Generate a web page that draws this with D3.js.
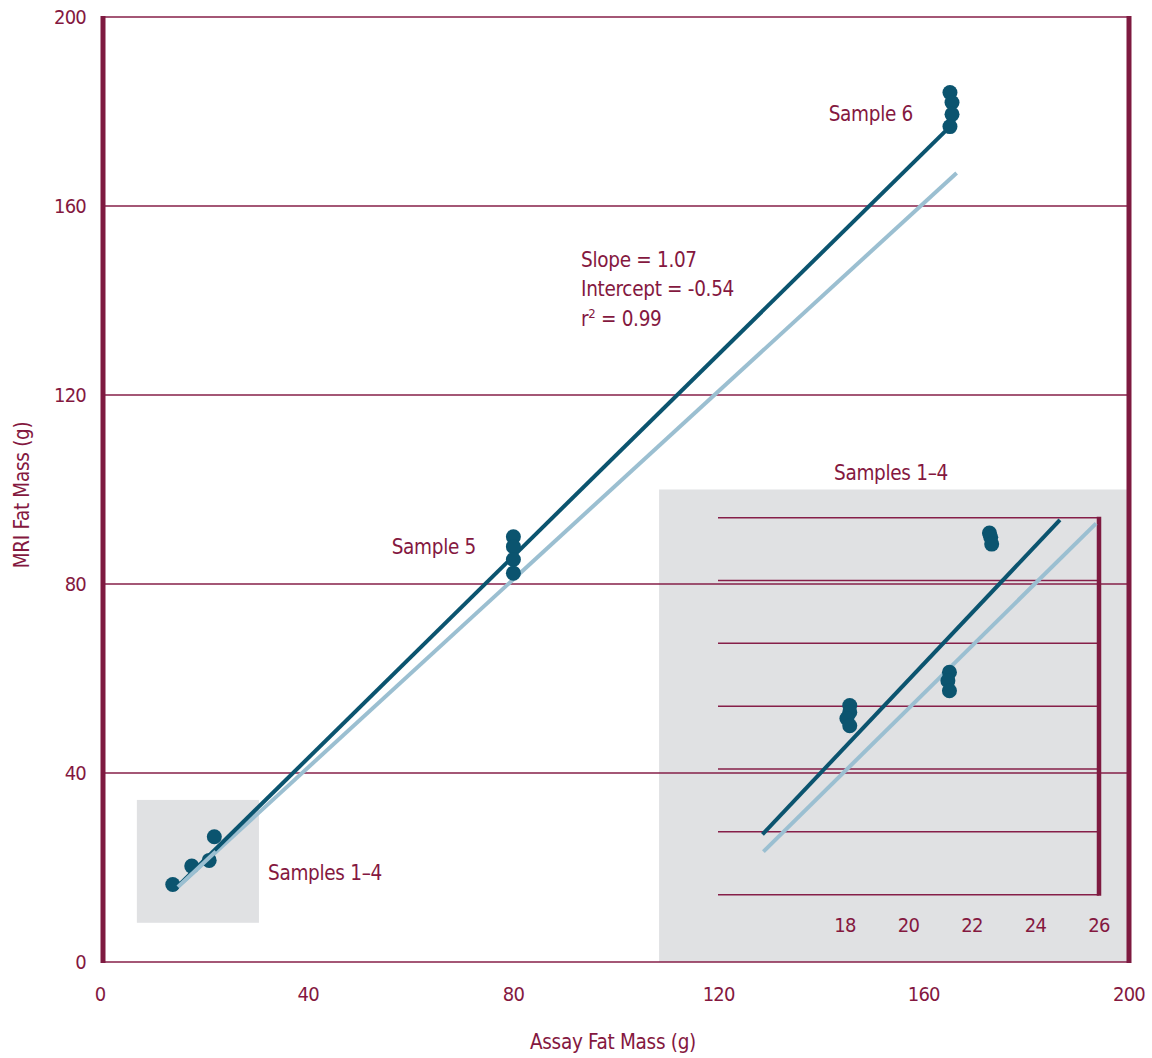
<!DOCTYPE html>
<html lang="en">
<head>
  <meta charset="utf-8">
  <script src="https://cdnjs.cloudflare.com/ajax/libs/d3/7.8.5/d3.min.js"></script>
  <style>
    body { margin: 0; background: #fff; }
    svg text {
      font-family: "Liberation Sans Narrow", "DejaVu Sans Condensed", sans-serif;
      fill: #84183f;
    }
    .grid line { stroke: #861f49; stroke-width: 1.5; }
    .tick-label { font-size: 20px; letter-spacing: -0.8px; }
    .note { font-size: 20.5px; letter-spacing: -0.3px; }
  </style>
</head>
<body>
  <svg id="chart" width="1152" height="1058"></svg>
  <script>
    // main chart values
    var xTicks = [0, 40, 80, 120, 160, 200];
    var yTicks = [0, 40, 80, 120, 160, 200];

    var samples14 = [[13.6, 16.4], [17.3, 20.3], [20.7, 21.5], [21.7, 26.5]];
    var sample5 = [[80.0, 90.0], [80.0, 87.9], [80.0, 85.2], [80.0, 82.3]];
    var sample6 = [[165.1, 184.0], [165.5, 181.9], [165.5, 179.4], [165.1, 176.8]];

    var fitLine = [[14, 15.4], [165.1, 176.8]];
    var refLine = [[14.6, 15.9], [166.4, 167]];

    // inset (samples 1-4 zoomed)
    var insetXTicks = [18, 20, 22, 24, 26];
    var insetYTicks = [14, 16, 18, 20, 22, 24, 26];
    var insetPoints = [
      [18.15, 20.02], [18.15, 19.81], [18.06, 19.61], [18.15, 19.38],
      [21.29, 21.08], [21.24, 20.81], [21.29, 20.49],
      [22.55, 25.51], [22.59, 25.38], [22.62, 25.16]
    ];
    var insetFit = [[15.4, 15.92], [24.77, 25.93]];
    var insetRef = [[15.43, 15.37], [25.91, 25.82]];

    var statLines = ["Slope = 1.07", "Intercept = -0.54"];

    var maroon = "#7e1a40",
        dark = "#0b546f",
        light = "#9bbfd1",
        grey = "#e0e1e3";

    var svg = d3.select("#chart");

    var x = d3.scaleLinear().domain([0, 200]).range([103, 1129]);
    var y = d3.scaleLinear().domain([0, 200]).range([962, 17]);

    var line = d3.line()
        .x(function(d) { return x(d[0]); })
        .y(function(d) { return y(d[1]); });

    // small grey box around samples 1-4
    svg.append("rect")
      .attr("x", x(6.6)).attr("y", y(34.3))
      .attr("width", x(30.4) - x(6.6))
      .attr("height", y(8.3) - y(34.3))
      .attr("fill", grey);

    // inset background
    svg.append("rect")
      .attr("x", x(108.4)).attr("y", y(100))
      .attr("width", x(200) - x(108.4))
      .attr("height", y(0) - y(100))
      .attr("fill", grey);

    // horizontal grid
    svg.append("g").attr("class", "grid")
      .selectAll("line")
      .data(yTicks)
      .enter().append("line")
        .attr("x1", x(0)).attr("x2", x(200))
        .attr("y1", function(d) { return y(d); })
        .attr("y2", function(d) { return y(d); });

    // left + right thick axis lines
    svg.append("line")
      .attr("x1", x(0)).attr("x2", x(0))
      .attr("y1", y(200) - 1).attr("y2", y(0) + 1)
      .attr("stroke", maroon).attr("stroke-width", 5);
    svg.append("line")
      .attr("x1", x(200)).attr("x2", x(200))
      .attr("y1", y(200) - 1).attr("y2", y(0) + 1)
      .attr("stroke", maroon).attr("stroke-width", 5);

    // tick labels
    svg.append("g").selectAll("text")
      .data(yTicks)
      .enter().append("text")
        .attr("class", "tick-label")
        .attr("x", 86)
        .attr("y", function(d) { return y(d); })
        .attr("dy", "0.35em")
        .attr("text-anchor", "end")
        .text(function(d) { return d; });

    svg.append("g").selectAll("text")
      .data(xTicks)
      .enter().append("text")
        .attr("class", "tick-label")
        .attr("x", function(d) { return x(d) - (d === 0 ? 3 : 0); })
        .attr("y", 1001)
        .attr("text-anchor", "middle")
        .text(function(d) { return d; });

    // axis titles
    svg.append("text")
      .attr("class", "note")
      .attr("x", 613).attr("y", 1049)
      .attr("text-anchor", "middle")
      .text("Assay Fat Mass (g)");

    svg.append("text")
      .attr("class", "note")
      .attr("transform", "translate(29,495) rotate(-90)")
      .attr("text-anchor", "middle")
      .text("MRI Fat Mass (g)");

    // regression lines
    svg.append("path").datum(refLine)
      .attr("d", line).attr("fill", "none")
      .attr("stroke", light).attr("stroke-width", 4);
    svg.append("path").datum(fitLine)
      .attr("d", line).attr("fill", "none")
      .attr("stroke", dark).attr("stroke-width", 4);

    // dots
    svg.append("g").selectAll("circle")
      .data(samples14.concat(sample5, sample6))
      .enter().append("circle")
        .attr("cx", function(d) { return x(d[0]); })
        .attr("cy", function(d) { return y(d[1]); })
        .attr("r", 7.5)
        .attr("fill", dark);

    // redraw light line over samples 1-4 (it sits on top there)
    svg.append("path").datum([refLine[0], [22, 23.4]])
      .attr("d", line).attr("fill", "none")
      .attr("stroke", light).attr("stroke-width", 4);

    // labels
    svg.append("text").attr("class", "note")
      .attr("x", 913).attr("y", 121).attr("text-anchor", "end").text("Sample 6");
    svg.append("text").attr("class", "note")
      .attr("x", 476).attr("y", 554).attr("text-anchor", "end").text("Sample 5");
    svg.append("text").attr("class", "note")
      .attr("x", 268).attr("y", 880).text("Samples 1\u20134");
    svg.append("text").attr("class", "note")
      .attr("x", 891).attr("y", 480).attr("text-anchor", "middle").text("Samples 1\u20134");

    var stats = svg.append("text").attr("class", "note");
    statLines.forEach(function(s, i) {
      stats.append("tspan").attr("x", 581).attr("y", 267 + i * 29.3).text(s);
    });
    var r2 = stats.append("tspan").attr("x", 581).attr("y", 267 + 2 * 29.3);
    r2.append("tspan").text("r");
    r2.append("tspan").attr("dy", -8).style("font-size", "13px").text("2");
    r2.append("tspan").attr("dy", 8).text(" = 0.99");

    // inset chart
    var ix = d3.scaleLinear().domain([14, 26]).range([718, 1099]);
    var iy = d3.scaleLinear().domain([14, 26]).range([894.7, 517.7]);

    var iline = d3.line()
        .x(function(d) { return ix(d[0]); })
        .y(function(d) { return iy(d[1]); });

    var inset = svg.append("g");

    inset.append("g").attr("class", "grid")
      .selectAll("line")
      .data(insetYTicks)
      .enter().append("line")
        .attr("x1", ix(14)).attr("x2", ix(26))
        .attr("y1", function(d) { return iy(d); })
        .attr("y2", function(d) { return iy(d); });

    inset.append("line")
      .attr("x1", ix(26)).attr("x2", ix(26))
      .attr("y1", iy(26) - 1).attr("y2", iy(14) + 1)
      .attr("stroke", maroon).attr("stroke-width", 4.5);

    inset.append("g").selectAll("text")
      .data(insetXTicks)
      .enter().append("text")
        .attr("class", "tick-label")
        .attr("x", function(d) { return ix(d); })
        .attr("y", 932)
        .attr("text-anchor", "middle")
        .text(function(d) { return d; });

    inset.append("path").datum(insetRef)
      .attr("d", iline).attr("fill", "none")
      .attr("stroke", light).attr("stroke-width", 4);
    inset.append("path").datum(insetFit)
      .attr("d", iline).attr("fill", "none")
      .attr("stroke", dark).attr("stroke-width", 4);

    inset.append("g").selectAll("circle")
      .data(insetPoints)
      .enter().append("circle")
        .attr("cx", function(d) { return ix(d[0]); })
        .attr("cy", function(d) { return iy(d[1]); })
        .attr("r", 7.5)
        .attr("fill", dark);
  </script>
</body>
</html>
